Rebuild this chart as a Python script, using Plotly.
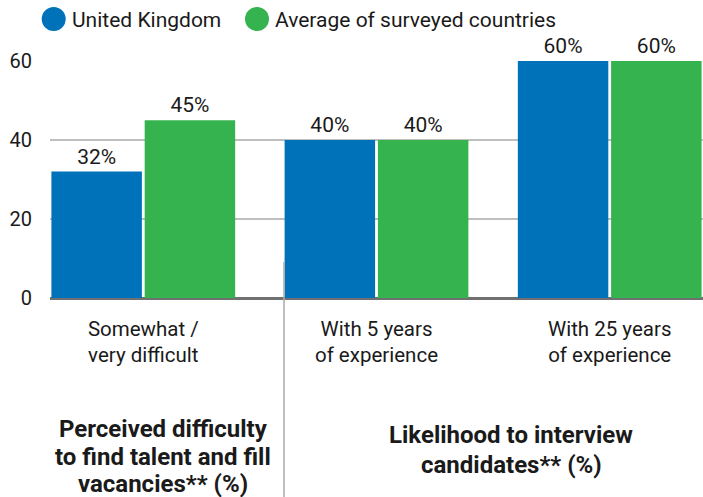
import plotly.graph_objects as go

categories = ["Somewhat /<br>very difficult", "With 5 years<br>of experience", "With 25 years<br>of experience"]
uk_values = [32, 40, 60]
avg_values = [45, 40, 60]
series_names = ["United Kingdom", "Average of surveyed countries"]
y_ticks = [0, 20, 40, 60]
title1_lines = ["Perceived difficulty", "to find talent and fill", "vacancies** (%)"]
title2_lines = ["Likelihood to interview", "candidates** (%)"]

BLUE = "#0072b9"
GREEN = "#34b34e"
TXT = "#1a1a1a"
FONT = "Roboto"

W, H = 703, 497
L, R, T, B = 50, 0, 61, 199
pw, ph = W - L - R, H - T - B


def px_x(px):
    return (px - L) / pw


def px_y(py):
    return (H - B - py) / ph


fig = go.Figure()
for name, vals, col in [(series_names[0], uk_values, BLUE), (series_names[1], avg_values, GREEN)]:
    fig.add_trace(go.Bar(
        x=list(range(len(categories))), y=vals, name=name, marker_color=col,
        marker_line_width=0,
        texttemplate="%{y}%", textposition="outside", cliponaxis=False,
        textfont=dict(size=21, color=TXT, family=FONT), showlegend=False,
    ))

shapes = []
annotations = []
# manual legend
leg = [(53.7, BLUE, series_names[0], 69.5), (257, GREEN, series_names[1], 272.5)]
for cx, col, name, tx in leg:
    shapes.append(dict(type="circle", xref="paper", yref="paper",
                       xsizemode="pixel", ysizemode="pixel",
                       xanchor=px_x(cx), yanchor=px_y(19),
                       x0=-12, x1=12, y0=-12, y1=12,
                       fillcolor=col, line_width=0))
    annotations.append(dict(xref="paper", yref="paper", x=px_x(tx), y=px_y(20),
                            text=name, showarrow=False, xanchor="left", yanchor="middle",
                            font=dict(size=21, color=TXT, family=FONT)))

# separator line
shapes.append(dict(type="line", xref="paper", yref="paper",
                   x0=px_x(284), x1=px_x(284), y0=px_y(262), y1=px_y(497),
                   line=dict(color="#aaaaaa", width=1.5)))

for lines, cx, ys in [(title1_lines, 163, [429, 456.5, 484]), (title2_lines, 511, [435, 465])]:
    for line, cy in zip(lines, ys):
        annotations.append(dict(xref="paper", yref="paper", x=px_x(cx), y=px_y(cy),
                                text="<b>" + line + "</b>", showarrow=False,
                                xanchor="center", yanchor="middle",
                                font=dict(size=24, color=TXT, family=FONT)))

fig.update_layout(
    width=W, height=H, margin=dict(l=L, r=R, t=T, b=B),
    paper_bgcolor="white", plot_bgcolor="white",
    barmode="group", bargap=0.2, bargroupgap=0.03,
    font=dict(family=FONT, size=20, color=TXT),
    shapes=shapes, annotations=annotations,
    xaxis=dict(tickmode="array", tickvals=list(range(len(categories))), ticktext=categories,
               range=[-0.4, 2.4], showgrid=False, zeroline=False, showline=False,
               tickfont=dict(size=20.5, color=TXT, family=FONT), ticks="", ticklabelstandoff=16),
    yaxis=dict(range=[0, 60], tickvals=y_ticks, showgrid=True, gridcolor="#bfbfbf", gridwidth=2,
               zeroline=True, zerolinecolor="#707070", zerolinewidth=3, showline=False,
               tickfont=dict(size=20, color=TXT, family=FONT), ticklabelstandoff=17),
)

fig.write_html("out.html", config={"displayModeBar": False},
               post_script="document.body.style.margin='0';document.body.style.overflow='hidden';")
